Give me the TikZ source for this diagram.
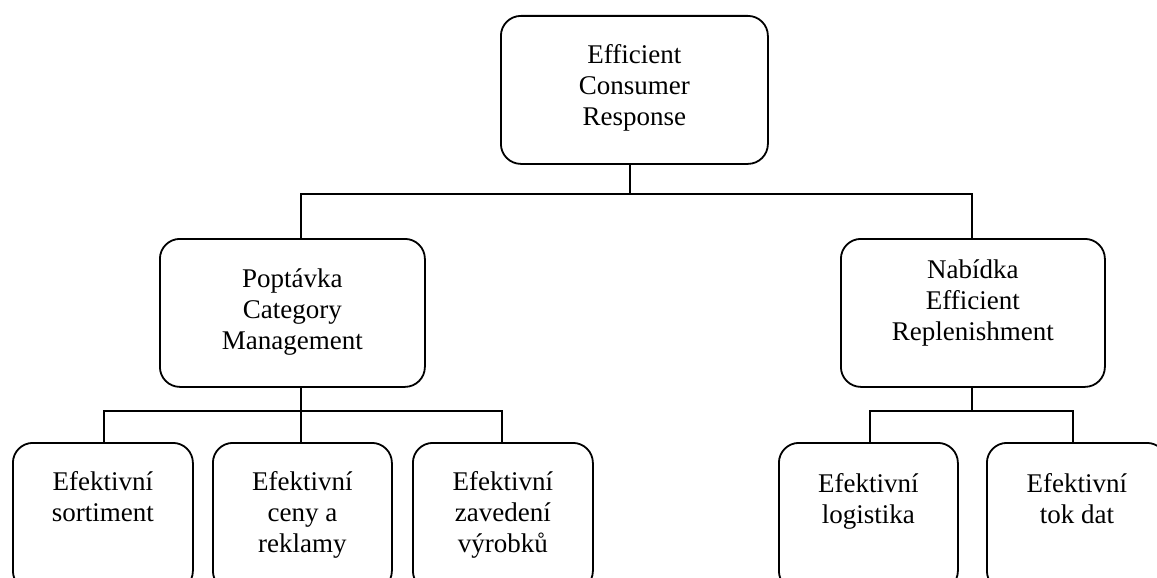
\documentclass[tikz,border=0pt]{standalone}
\usepackage{fontspec}
\setmainfont{Liberation Serif}
\newcommand\bxt[3]{\parbox[c][148pt][t]{#1}{\centering\rule{0pt}{#2}#3}}
\begin{document}
\begin{tikzpicture}[x=1pt,y=-1pt,
  orgbox/.style={draw, line width=1.8pt, rounded corners=20pt, inner sep=0pt,
    minimum height=148pt, anchor=north west,
    font=\fontsize{27}{31}\selectfont},
  conn/.style={line width=1.8pt}]
\useasboundingbox (0,0) rectangle (1157,578);
\clip (0,0) rectangle (1157,578);
\node[orgbox, minimum width=267pt] (ecr) at (500,15) {\bxt{267pt}{48pt}{Efficient\\Consumer\\Response}};
\node[orgbox, minimum width=265pt] (pop) at (159,238) {\bxt{265pt}{49pt}{Poptávka\\Category\\Management}};
\node[orgbox, minimum width=264pt] (nab) at (840,238) {\bxt{264pt}{40pt}{Nabídka\\Efficient\\Replenishment}};
\node[orgbox, minimum width=180pt] (c1) at (12,442) {\bxt{180pt}{48pt}{Efektivní\\sortiment}};
\node[orgbox, minimum width=179pt] (c2) at (212,442) {\bxt{179pt}{48pt}{Efektivní\\ceny a\\reklamy}};
\node[orgbox, minimum width=180pt] (c3) at (412,442) {\bxt{180pt}{48pt}{Efektivní\\zavedení\\výrobků}};
\node[orgbox, minimum width=179pt] (c4) at (778,442) {\bxt{179pt}{50pt}{Efektivní\\logistika}};
\node[orgbox, minimum width=180pt] (c5) at (986,442) {\bxt{180pt}{50pt}{Efektivní\\tok dat}};
\coordinate (jT) at (630,194);
\coordinate (jL) at (301,194);
\coordinate (jR) at (972,194);
\coordinate (kL) at (301,411);
\coordinate (kL1) at (104,411);
\coordinate (kL3) at (502,411);
\coordinate (kR) at (972,411);
\coordinate (kR1) at (870,411);
\coordinate (kR2) at (1073,411);
\draw[conn] (ecr.south -| jT) -- (jT);
\draw[conn] (pop.north -| jL) -- (jL) -- (jR) -- (nab.north -| jR);
\draw[conn] (pop.south -| kL) -- (c2.north -| kL);
\draw[conn] (c1.north -| kL1) -- (kL1) -- (kL3) -- (c3.north -| kL3);
\draw[conn] (nab.south -| kR) -- (kR);
\draw[conn] (c4.north -| kR1) -- (kR1) -- (kR2) -- (c5.north -| kR2);
\end{tikzpicture}
\end{document}
